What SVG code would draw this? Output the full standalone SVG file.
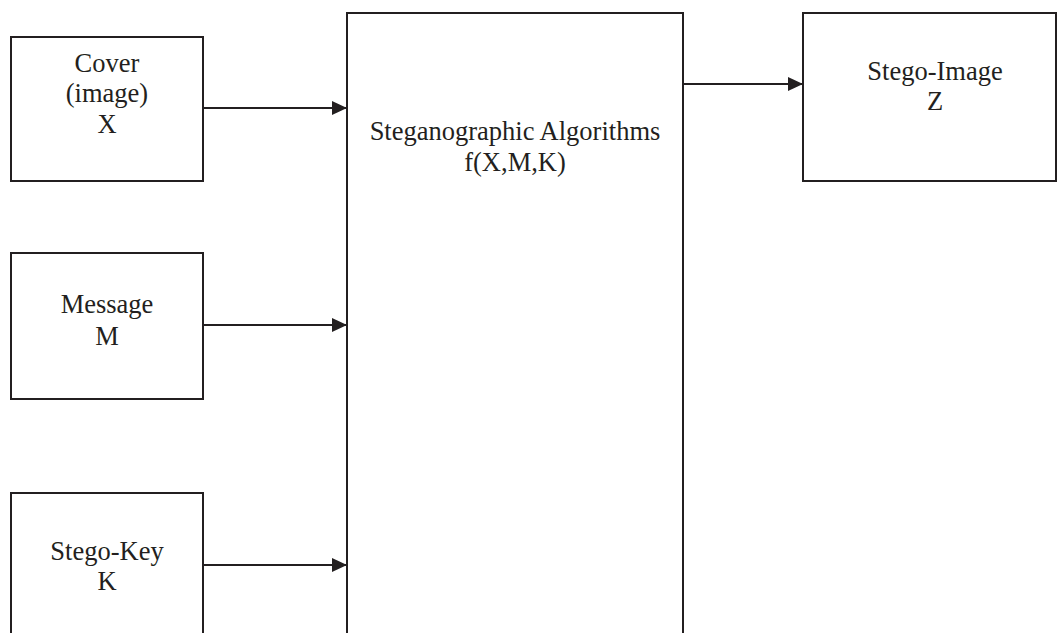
<svg xmlns="http://www.w3.org/2000/svg" width="1057" height="633" viewBox="0 0 1057 633">
<style>
.box{fill:#fff;stroke:#231f20;stroke-width:2}
.t{font-family:"Liberation Serif","Times New Roman",serif;font-size:26.5px;fill:#231f20;text-anchor:middle}
.c{stroke:#231f20;stroke-width:2;fill:none}
</style>
<defs>
<marker id="ah" markerUnits="userSpaceOnUse" markerWidth="16" markerHeight="14" refX="15" refY="7" orient="auto">
<path d="M0,0 L15,7 L0,14 Z" fill="#231f20"/>
</marker>
</defs>
<rect width="1057" height="633" fill="#fff"/>
<g id="cover">
<rect class="box" x="11" y="37" width="192" height="144"/>
<text class="t" x="107" y="72">Cover</text>
<text class="t" x="107" y="102">(image)</text>
<text class="t" x="107" y="133">X</text>
</g>
<g id="message">
<rect class="box" x="11" y="253" width="192" height="146"/>
<text class="t" x="107" y="313">Message</text>
<text class="t" x="107" y="345">M</text>
</g>
<g id="stegokey">
<rect class="box" x="11" y="493" width="192" height="160"/>
<text class="t" x="107" y="560">Stego-Key</text>
<text class="t" x="107" y="590">K</text>
</g>
<g id="algorithm">
<rect class="box" x="347" y="13" width="336" height="640"/>
<text class="t" x="515" y="140">Steganographic Algorithms</text>
<text class="t" x="515" y="171">f(X,M,K)</text>
</g>
<g id="stegoimage">
<rect class="box" x="803" y="13" width="253" height="168"/>
<text class="t" x="935" y="80">Stego-Image</text>
<text class="t" x="935" y="110">Z</text>
</g>
<g id="connectors">
<line class="c" x1="203" y1="108" x2="347" y2="108" marker-end="url(#ah)"/>
<line class="c" x1="203" y1="325" x2="347" y2="325" marker-end="url(#ah)"/>
<line class="c" x1="203" y1="565" x2="347" y2="565" marker-end="url(#ah)"/>
<line class="c" x1="683" y1="84" x2="803" y2="84" marker-end="url(#ah)"/>
</g>
</svg>
